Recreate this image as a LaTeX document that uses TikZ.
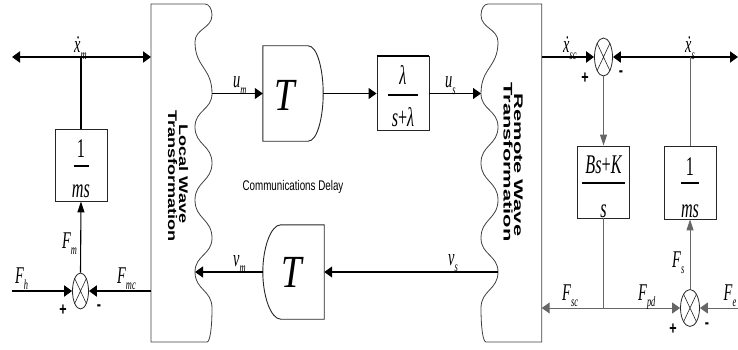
\documentclass[tikz,border=0pt]{standalone}
\usepackage{fontspec}
\usepackage{graphicx}
\setmainfont{Liberation Serif}
\newfontfamily\mf[FakeStretch=0.6]{Liberation Serif}
\newfontfamily\tf[FakeStretch=0.8]{Liberation Serif}
\newfontfamily\csf[FakeStretch=0.7]{Liberation Sans}
\newfontfamily\rsl[FakeStretch=1.45]{Liberation Sans}
\newfontfamily\rsr[FakeStretch=1.75]{Liberation Sans}
\usetikzlibrary{arrows.meta,calc,shapes.geometric}
\newcommand\labfont{\mf\itshape\fontsize{24}{24}\selectfont}
\newcommand\frfont{\mf\itshape\fontsize{27}{27}\selectfont}
\newcommand\pmfont{\csf\bfseries\fontsize{18}{18}\selectfont}
\newcommand\sub[1]{\raisebox{-0.27em}{\fontsize{14}{14}\selectfont #1}}
\newcommand\xd{\accent"02D9 x}
\begin{document}
\begin{tikzpicture}[x=1pt,y=-1pt,
  thickl/.style={line width=2.2pt, draw=black},
  midl/.style={line width=1.1pt, draw=black},
  thinl/.style={line width=1pt, draw=black!60},
  panel/.style={line width=0.8pt, draw=black!75},
  dshape/.style={line width=0.9pt, draw=black!85},
  ha/.style={-{Triangle[length=8pt,width=11pt]}},
  hb/.style={{Triangle[length=8pt,width=11pt]}-{Triangle[length=8pt,width=11pt]}},
  va/.style={-{Triangle[length=11pt,width=7pt]}},
  blk/.style={draw=black!85, line width=0.9pt, minimum width=52pt, inner sep=0pt},
  sumj/.style={draw=black!85, ellipse, line width=0.8pt, inner sep=0pt},
  sumx/.style={line width=0.6pt, draw=black!85},
  lab/.style={inner sep=0pt, font=\labfont, anchor=base west},
  pm/.style={inner sep=0pt, font=\pmfont},
  fracp/.style={inner sep=0pt, font=\frfont, anchor=base},
  bar/.style={line width=1.6pt},
  ltx/.style={rotate=-90, anchor=base, inner sep=0pt, font=\rsl\bfseries\fontsize{12.5}{11}\selectfont},
  rtx/.style={rotate=-90, anchor=base, inner sep=0pt, font=\rsr\bfseries\fontsize{12.5}{11}\selectfont},
]
\useasboundingbox (0,0) rectangle (738,350);

% wave transformation panels
\draw[panel] (151,4) -- (205,4) .. controls (209,4) and (212,9) .. (212,15)
 .. controls (212,28.5) and (195,28.5) .. (195,42)
 .. controls (195,67.5) and (212,67.5) .. (212,93.5)
 .. controls (212,110) and (195,110) .. (195,127)
 .. controls (195,145) and (212,145) .. (212,163)
 .. controls (212,181.5) and (195,181.5) .. (195,200)
 .. controls (195,219) and (212,219) .. (212,238)
 .. controls (212,255) and (195,255) .. (195,272)
 .. controls (195,290) and (212,290) .. (212,308)
 .. controls (212,328) and (210,342) .. (207,342)
 -- (151,342) -- cycle;
\draw[panel] (541.7,4) -- (488,4) .. controls (484,4) and (481,9) .. (481,15)
 .. controls (481,28.5) and (498,28.5) .. (498,42)
 .. controls (498,67.5) and (481,67.5) .. (481,93.5)
 .. controls (481,110) and (498,110) .. (498,127)
 .. controls (498,145) and (481,145) .. (481,163)
 .. controls (481,181.5) and (498,181.5) .. (498,200)
 .. controls (498,219) and (481,219) .. (481,238)
 .. controls (481,255) and (498,255) .. (498,272)
 .. controls (498,290) and (481,290) .. (481,308)
 .. controls (481,328) and (483,342) .. (486,342)
 -- (541.7,342) -- cycle;
\coordinate (LPx) at (151,57);
\coordinate (LPf) at (151,291);
\coordinate (LPo) at (212,93.5);
\coordinate (LPi) at (195,272);
\coordinate (RPo) at (481,93.5);
\coordinate (RPi) at (498,272);
\coordinate (RPx) at (541.7,57);
\coordinate (RPf) at (541.7,308);

\node[ltx] (ltxt1) at (179,174) {Local Wave};
\node[ltx] (ltxt2) at (168,176) {Transformation};
\node[rtx] (rtxt1) at (514,165) {Remote Wave};
\node[rtx] (rtxt2) at (503.5,162) {Transformation};
\node[inner sep=0pt, font=\csf\fontsize{14}{14}\selectfont] (cd) at (293,187) {Communications Delay};

% blocks
\node[blk, minimum height=72pt] (bm) at (81,165) {};
\node[blk, minimum height=74pt] (bl) at (403,93.5) {};
\draw[line width=2.2pt] (bl.north west) -- (bl.north east);
\node[blk, minimum height=72pt] (bpd) at (603.5,182) {};
\node[blk, minimum height=73pt] (bs) at (690,182.5) {};

% fractions
\node[fracp] (bm1) at (81,157) {\upshape 1};
\draw[bar] (73.5,166) -- (88.5,166);
\node[fracp] (bm2) at (81,197) {ms};
\node[fracp] (bl1) at (403,85) {λ};
\draw[bar] (388,95) -- (418,95);
\node[fracp] (bl2) at (403,127) {s{\upshape +}λ};
\node[fracp] (bpd1) at (603.5,173) {Bs{\upshape +}K};
\draw[bar] (582,183) -- (625,183);
\node[fracp] (bpd2) at (603.5,217) {s};
\node[fracp] (bs1) at (690,175) {\upshape 1};
\draw[bar] (681,183) -- (699,183);
\node[fracp] (bs2) at (690,217) {ms};

% delay blocks
\node[inner sep=0pt, minimum width=60pt, minimum height=95pt] (T1) at (293,93.5) {};
\draw[dshape] (T1.north west) -- ($(T1.north east)+(-15,0)$)
  .. controls ($(T1.north east)+(-6,0)$) and ($(T1.east)+(0,-24)$) .. (T1.east)
  .. controls ($(T1.east)+(0,24)$) and ($(T1.south east)+(-6,0)$) .. ($(T1.south east)+(-15,0)$)
  -- (T1.south west) -- cycle;
\node[inner sep=0pt, font=\tf\itshape\fontsize{46}{46}\selectfont] (T1t) at (285,95) {T};
\node[inner sep=0pt, minimum width=61pt, minimum height=94pt] (T2) at (293.5,272) {};
\draw[dshape] (T2.north east) -- ($(T2.north west)+(18,0)$)
  .. controls ($(T2.north west)+(8,0)$) and ($(T2.west)+(0,-24)$) .. (T2.west)
  .. controls ($(T2.west)+(0,24)$) and ($(T2.south west)+(8,0)$) .. ($(T2.south west)+(18,0)$)
  -- (T2.south east) -- cycle;
\node[inner sep=0pt, font=\tf\itshape\fontsize{46}{46}\selectfont] (T2t) at (292,272) {T};

% summing junctions
\node[sumj, minimum width=16pt, minimum height=36pt] (j1) at (80.5,291) {};
\node[sumj, minimum width=18pt, minimum height=38pt] (j2) at (603.5,57) {};
\node[sumj, minimum width=19pt, minimum height=37pt] (j3) at (690,308) {};
\foreach \j in {j1,j2,j3}{
  \draw[sumx] (\j.65) -- (\j.245) (\j.115) -- (\j.295);
}

% left side connectors
\coordinate (xl) at (12,57);
\coordinate (tap1) at (81,57);
\coordinate (fh) at (12,291);
\draw[thickl, hb] (xl) -- (LPx);
\draw[midl] (tap1) -- (bm.north);
\draw[thickl, ha] (fh) -- (j1.west);
\draw[thickl, ha] (LPf) -- (j1.east);
\draw[midl, va] (j1.north) -- (bm.south);

% middle connectors
\draw[midl, ha] (LPo) -- (T1.west);
\draw[midl, ha] (T1.east) -- (bl.west);
\draw[midl, ha] (bl.east) -- (RPo);
\draw[midl, ha] (RPi) -- (T2.east);
\draw[midl, ha] (T2.west) -- (LPi);

% right side connectors
\coordinate (xr) at (738,57);
\coordinate (tap2) at (690,57);
\coordinate (tap3) at (603.5,308);
\coordinate (fe) at (738,308);
\draw[thickl, ha] (RPx) -- (j2.west);
\draw[thickl, hb] (j2.east) -- (xr);
\draw[thinl] (tap2) -- (bs.north);
\draw[thinl, va] (j2.south) -- (bpd.north);
\draw[thinl] (bpd.south) -- (tap3);
\draw[thinl, ha] (tap3) -- (RPf);
\draw[thinl, ha] (tap3) -- (j3.west);
\draw[thinl, ha] (fe) -- (j3.east);
\draw[thinl, va] (j3.north) -- (bs.south);

% labels
\node[lab] (lxm) at (74,53) {\xd\sub{m}};
\node[lab] (lum) at (233,88) {u\sub{m}};
\node[lab] (lus) at (445,88) {u\sub{s}};
\node[lab] (lxsc) at (563,53) {\xd\sub{sc}};
\node[lab] (lxs) at (685,53) {\xd\sub{s}};
\node[lab] (lfm) at (62,248) {F\sub{m}};
\node[lab] (lfh) at (15,283) {F\sub{h}};
\node[lab] (lfmc) at (117,283) {F\sub{mc}};
\node[lab] (lvm) at (233,266) {v\sub{m}};
\node[lab] (lvs) at (448,265) {v\sub{s}};
\node[lab] (lfsc) at (562,300) {F\sub{sc}};
\node[lab] (lfpd) at (638,300) {F\sub{pd}};
\node[lab] (lfs) at (672,267) {F\sub{s}};
\node[lab] (lfe) at (723.5,300) {F\sub{e}};

% signs
\node[pm] (p1) at (63,310) {+};
\node[pm] (m1) at (99,308) {-};
\node[pm] (p2) at (585,78) {+};
\node[pm] (m2) at (621,74) {-};
\node[pm] (p3) at (673,329) {+};
\node[pm] (m3) at (707,326) {-};
\end{tikzpicture}
\end{document}
